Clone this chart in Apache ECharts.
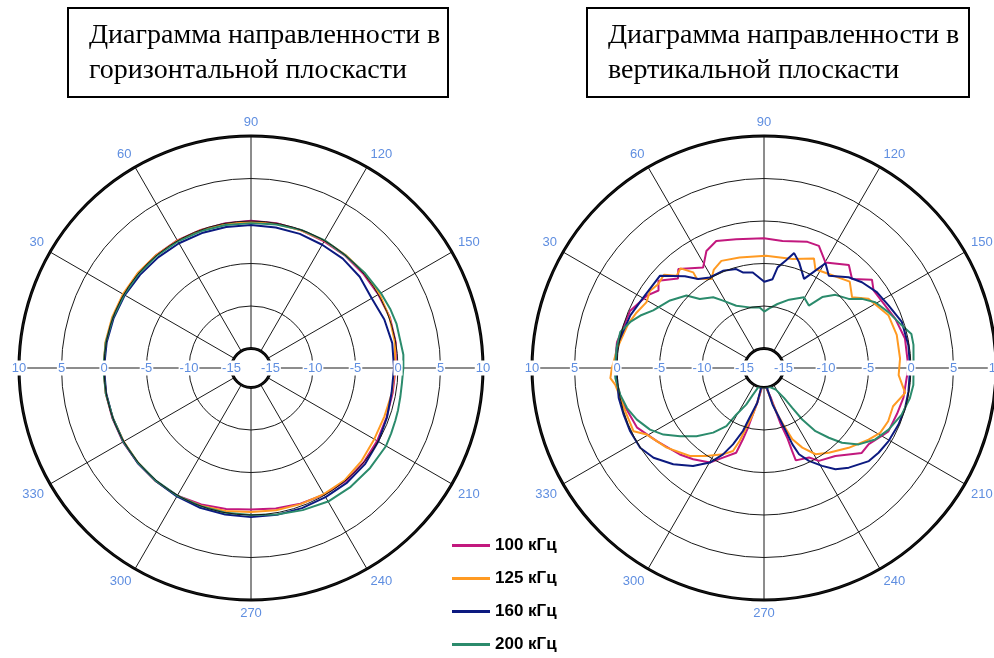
<!DOCTYPE html>
<html>
<head>
<meta charset="utf-8">
<script src="https://cdn.jsdelivr.net/npm/echarts@6/dist/echarts.min.js"></script>
<style>
  html, body { margin: 0; padding: 0; background: #fff; }
  #chart { width: 994px; height: 658px; }
</style>
</head>
<body>
<div id="chart"></div>
<script>
// series names (legend)
const seriesNames = ['100 кГц', '125 кГц', '160 кГц', '200 кГц'];

// horizontal plane, [angle, dB]
const hor100 = [[0,0.05],[10,0.05],[20,0.0],[30,0.0],[40,0.05],[50,0.05],[60,0.05],[70,0.0],[80,0.0],[90,0.04],[100,0.0],[110,-0.05],[120,-0.1],[130,-0.05],[140,-0.05],[150,0.0],[160,0.1],[170,0.0],[180,-0.27],[190,-0.37],[200,-0.32],[210,-0.15],[220,0.0],[230,0.05],[240,-0.1],[250,-0.3],[260,-0.5],[270,-0.65],[280,-0.45],[290,-0.2],[300,0.05],[310,0.1],[320,0.1],[330,0.1],[340,0.05],[350,0.05],[360,0.05]];
const hor125 = [[0,0.05],[10,0.1],[20,0.1],[30,0.1],[40,0.1],[50,0.05],[60,0.0],[70,-0.05],[80,-0.1],[90,-0.15],[100,-0.1],[110,-0.05],[120,0.0],[130,0.05],[140,0.1],[150,0.15],[160,0.05],[170,-0.1],[180,-0.35],[190,-0.45],[200,-0.6],[210,-0.55],[220,-0.3],[230,-0.1],[240,-0.15],[250,-0.25],[260,-0.3],[270,-0.35],[280,-0.2],[290,-0.05],[300,0.1],[310,0.1],[320,0.05],[330,0.0],[340,0.0],[350,0.05],[360,0.05]];
const hor160 = [[0,0.0],[10,-0.05],[20,-0.1],[30,-0.15],[40,-0.25],[50,-0.3],[60,-0.35],[70,-0.4],[80,-0.45],[90,-0.47],[100,-0.5],[110,-0.5],[120,-0.55],[130,-0.5],[140,-0.6],[150,-0.9],[160,-0.6],[170,-0.42],[180,-0.47],[190,-0.5],[200,-0.27],[210,0.0],[220,0.25],[230,0.3],[240,0.25],[250,0.25],[260,0.25],[270,0.25],[280,0.2],[290,0.2],[300,0.15],[310,0.1],[320,0.1],[330,0.05],[340,0.0],[350,0.0],[360,0.0]];
const hor200 = [[0,0.1],[10,0.05],[20,0.0],[30,-0.05],[40,-0.05],[50,-0.05],[60,-0.1],[70,-0.15],[80,-0.2],[90,-0.25],[100,-0.15],[110,0.0],[120,0.05],[130,0.0],[140,0.15],[150,0.35],[157,0.5],[163,0.6],[169,0.55],[175,0.7],[180,0.63],[186,0.55],[191,0.6],[196,0.7],[200,0.78],[205,0.9],[210,1.05],[220,1.0],[230,0.95],[240,0.85],[250,0.5],[260,0.2],[270,0.0],[280,0.0],[290,0.0],[300,0.05],[310,0.05],[320,0.05],[330,0.05],[340,0.0],[350,0.05],[360,0.1]];

// vertical plane, [angle, dB]
const ver100 = [[0,0.3],[10,0.27],[23,-0.16],[31.7,-1.1],[36.3,-1.9],[39.6,-1.17],[46.1,-2.7],[49.1,-1.9],[58.8,-3.47],[63.8,-1.95],[69.4,-1.33],[77.8,-1.8],[90,-2.03],[98.3,-2.19],[109,-1.6],[114.2,-1.54],[120.2,-2.93],[129.5,-1.6],[134.7,-2.57],[140.7,-0.88],[144.7,-1.5],[159.4,-0.8],[168.2,-0.35],[180,-0.3],[184,-0.47],[192,-0.52],[199,-0.74],[207,-0.87],[210,-1.3],[216,-2.06],[221,-2.06],[225.6,-3.06],[231,-3.96],[239.4,-4.6],[243.3,-5.5],[251,-5.8],[251.3,-7.0],[251.6,-8.65],[253.4,-10.4],[254.6,-12.0],[257,-13.7],[264,-15],[270,-15],[276,-15],[280.7,-13.3],[283.6,-11.6],[285.1,-9.9],[286.5,-8.55],[288.2,-6.8],[294.6,-5.7],[299.8,-4.47],[307.8,-3.7],[314.2,-3.1],[325.7,-2.03],[334.8,-0.8],[346.8,-0.13],[353.4,0.1],[360,0.3]];
const ver125 = [[0,0.6],[8,0.1],[18,-0.5],[23,-0.9],[29.3,-1.45],[34,-1.1],[38.5,-1.41],[43,-1.2],[46.6,-2.34],[50,-2.0],[53.5,-3.3],[53,-4.16],[59.4,-5.14],[63,-4.3],[68.3,-3.73],[77.5,-3.98],[91,-4.1],[104.6,-4.05],[114.5,-3.13],[117.5,-4.2],[124.6,-3.86],[134.8,-2.98],[141.2,-4.0],[146.5,-2.55],[157,-1.4],[166,-1.2],[176,-1.25],[183,-1.43],[190,-0.43],[196.5,-1.46],[203.2,-1.4],[209.2,-1.64],[214.4,-2.39],[223.3,-3.6],[232.6,-4.75],[239.1,-5.47],[244.3,-6.9],[248.3,-8.26],[250.9,-10.07],[253.8,-11.6],[257.7,-13.5],[263,-15],[270,-15],[277,-15],[280.7,-13.3],[283.6,-11.6],[286.6,-9.96],[288.5,-8.24],[290.5,-6.87],[295.4,-6.05],[303.2,-4.93],[310.1,-3.76],[320.7,-2.5],[330.4,-1.44],[334.1,-0.24],[342.6,-0.2],[348.2,-0.04],[353.5,0.31],[356.2,0.82],[360,0.6]];
const ver160 = [[0,0.1],[8.8,0.2],[21.5,-0.39],[30.5,-0.86],[41.6,-0.94],[49.2,-3.05],[53.5,-4.27],[59.1,-4.88],[67.1,-4.88],[74.3,-5.2],[77.5,-5.78],[83.3,-5.98],[90.2,-7.15],[95.5,-6.8],[97.7,-5.35],[101.5,-4.4],[104.7,-3.32],[108.4,-4.2],[114.2,-5.8],[116.4,-4.96],[120.4,-3.0],[125.1,-4.03],[133,-2.7],[138.8,-1.98],[146.1,-1.3],[153.3,-0.9],[161.5,-0.2],[171,-0.1],[180,-0.1],[189.2,-0.08],[195.9,-0.04],[202.8,-0.13],[210.4,-0.3],[216.5,-0.53],[221.6,-0.8],[229.6,-1.9],[234.8,-2.71],[239.3,-3.9],[244.2,-5.16],[247.9,-6.34],[249.6,-7.71],[250.9,-9.45],[253.1,-11.2],[256.8,-12.89],[262,-15],[270,-15],[278,-15],[281,-13.1],[286.2,-11.2],[288.5,-9.48],[292.1,-7.6],[295.4,-6.05],[299.8,-4.47],[305.9,-3.05],[313.3,-1.73],[320.9,-0.55],[327.2,0.04],[334.7,0.12],[341.6,0.11],[348.3,0.16],[360,0.1]];
const ver200 = [[0,0.25],[8,0.2],[14.1,0.14],[19,-0.66],[23,-1.5],[27.5,-2.6],[35.7,-3.68],[43.1,-4.8],[47.1,-6.2],[54.3,-7.05],[58.7,-8.02],[66,-9.27],[76.5,-9.96],[85.6,-10.13],[90.3,-10.66],[95,-10.25],[101.9,-9.6],[110.2,-8.73],[119.5,-7.74],[125.7,-8.25],[129.4,-6.5],[134.3,-5.27],[140.8,-4.43],[144.8,-3.18],[149.4,-2.09],[155.8,-1.25],[162.8,-0.33],[167,0.5],[171.2,0.5],[180,0.3],[186.5,0.39],[191.7,0.23],[198.7,-0.2],[206.3,-0.94],[212.7,-1.74],[218.9,-2.98],[223.8,-4.58],[227.1,-6.09],[230.8,-7.71],[233.4,-9.75],[234.6,-11.55],[236.2,-13.06],[241.4,-14.4],[254,-15],[270,-15],[286,-15],[292.8,-13.8],[295.9,-12.5],[300.8,-10.9],[302.9,-9.15],[308.2,-7.62],[314.7,-6.0],[320.9,-4.57],[326.5,-3.1],[331.6,-2.05],[337.9,-1.15],[343.7,-0.5],[349.4,-0.1],[356,0.23],[360,0.25]];

// radial scale (dB) and angle ticks
const radiusMin = -15, radiusMax = 10, radiusStep = 5;
const angleStep = 30;

const colors = ['#c2187e', '#ff9a22', '#0c1a80', '#2b8b6c'];
const labelBlue = '#5f8ee0';
const labelFont = '"Liberation Sans Narrow", "Liberation Sans", sans-serif';

const chart = echarts.init(document.getElementById('chart'));

const centers = [[251, 368], [764, 368]];
const ringRadius = [19.5, 232];

const polar = [];
const angleAxis = [];
const radiusAxis = [];
centers.forEach((c) => {
  // main polar, radius labels to the left
  polar.push({ center: c, radius: ringRadius });
  // twin polar only for the labels to the right
  polar.push({ center: c, radius: ringRadius });
});

const radiusLabel = {
  margin: 0,
  align: 'center',
  verticalAlign: 'middle',
  color: labelBlue,
  fontSize: 13,
  fontFamily: labelFont,
  backgroundColor: '#fff',
  padding: [1, 1],
  showMinLabel: true,
  showMaxLabel: true
};

for (let i = 0; i < 4; i++) {
  const main = i % 2 === 0;
  angleAxis.push({
    polarIndex: i,
    type: 'value',
    min: 0,
    max: 360,
    interval: angleStep,
    startAngle: main ? 180 : 0,
    clockwise: true,
    show: main,
    axisLine: { lineStyle: { color: '#000', width: 3 } },
    axisTick: { show: false },
    axisLabel: {
      margin: 7,
      color: labelBlue,
      fontSize: 13,
      fontFamily: labelFont,
      formatter: (v) => (v % 180 === 0 ? '' : String(v))
    },
    splitLine: { show: true, lineStyle: { color: '#1a1a1a', width: 1 } },
    splitArea: { show: false }
  });
  radiusAxis.push({
    polarIndex: i,
    type: 'value',
    min: radiusMin,
    max: radiusMax,
    interval: radiusStep,
    z: 5,
    axisLine: { show: false },
    axisTick: { show: false },
    axisLabel: radiusLabel,
    splitLine: { show: main, lineStyle: { color: '#1a1a1a', width: 1 } },
    splitArea: { show: false }
  });
}

const horData = [hor100, hor125, hor160, hor200];
const verData = [ver100, ver125, ver160, ver200];

const series = [];
[[horData, 0], [verData, 2]].forEach(([set, pIdx]) => {
  set.forEach((pts, k) => {
    series.push({
      name: seriesNames[k],
      type: 'line',
      coordinateSystem: 'polar',
      polarIndex: pIdx,
      showSymbol: false,
      symbol: 'none',
      animation: false,
      lineStyle: { color: colors[k], width: 2 },
      itemStyle: { color: colors[k] },
      // polar data is [radius, angle]
      data: pts.map((p) => [p[1], p[0]])
    });
  });
});

const titleFont = '28px "Liberation Serif", "Times New Roman", serif';

chart.setOption({
  animation: false,
  backgroundColor: '#fff',
  polar: polar,
  angleAxis: angleAxis,
  radiusAxis: radiusAxis,
  legend: {
    data: seriesNames,
    orient: 'vertical',
    left: 447,
    top: 532,
    icon: 'rect',
    itemWidth: 38,
    itemHeight: 3,
    itemGap: 16,
    selectedMode: false,
    textStyle: { fontSize: 17, fontWeight: 'bold', fontFamily: 'Liberation Sans', color: '#000' }
  },
  graphic: [
    { type: 'rect', shape: { x: 68, y: 8, width: 380, height: 89 }, style: { fill: '#fff', stroke: '#000', lineWidth: 2 } },
    { type: 'text', x: 89, y: 18, style: { text: 'Диаграмма направленности в\nгоризонтальной плоскасти', font: titleFont, fill: '#000', lineHeight: 35, verticalAlign: 'top' } },
    { type: 'rect', shape: { x: 587, y: 8, width: 382, height: 89 }, style: { fill: '#fff', stroke: '#000', lineWidth: 2 } },
    { type: 'text', x: 608, y: 18, style: { text: 'Диаграмма направленности в\nвертикальной плоскасти', font: titleFont, fill: '#000', lineHeight: 35, verticalAlign: 'top' } }
  ],
  series: series
});
</script>
</body>
</html>
